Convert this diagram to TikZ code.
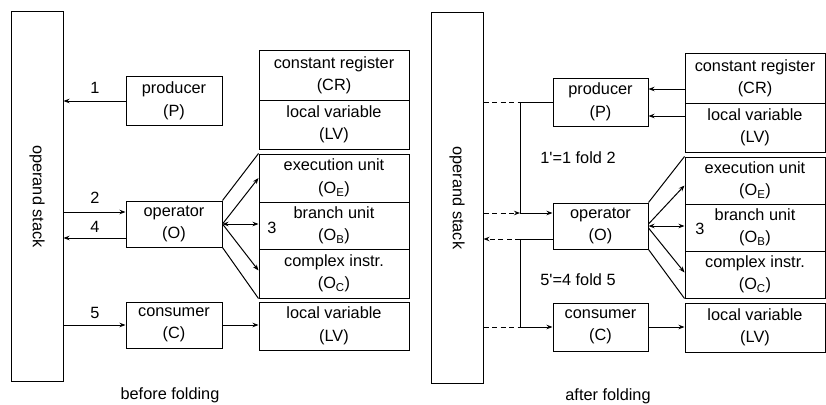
\documentclass[tikz,border=0pt]{standalone}
\usepackage{fontspec}
\setmainfont{Liberation Sans}
\usetikzlibrary{arrows.meta}
\newcommand{\labfont}{\fontsize{16.3}{22.5}\selectfont}
\begin{document}
\begin{tikzpicture}[x=1pt,y=-1pt,
  box/.style={draw, line width=1pt, inner sep=0pt, align=center, font=\labfont},
  lbl/.style={inner sep=0pt, font=\labfont},
  arr/.style={line width=1pt, -{Stealth[length=6pt,width=4.5pt]}},
  arrb/.style={line width=1pt, {Stealth[length=6pt,width=4.5pt]}-{Stealth[length=6pt,width=4.5pt]}},
  ln/.style={line width=1pt},
  dsh/.style={line width=1pt, dash pattern=on 5pt off 3.5pt}]
\useasboundingbox (0,0) rectangle (826,404);

% ---------- left panel ----------
\node[box, minimum width=52pt, minimum height=369pt,
  label={[rotate=-90,lbl]center:operand stack}] (stackL) at (37,196.5) {};
\node[box, minimum width=96pt, minimum height=49pt] (prodL) at (174,101) {producer\\(P)};
\node[box, minimum width=150pt, minimum height=49pt] (crL) at (334,75.5) {constant register\\(CR)};
\node[box, minimum width=150pt, minimum height=49pt] (lvL) at (334,124.5) {local variable\\(LV)};
\node[box, minimum width=150pt, minimum height=48pt] (oeL) at (334,178) {execution unit\\(O\textsubscript{E})};
\node[box, minimum width=150pt, minimum height=47pt] (obL) at (334,225.5) {branch unit\\(O\textsubscript{B})};
\node[box, minimum width=150pt, minimum height=49pt] (ocL) at (334,273.5) {complex instr.\\(O\textsubscript{C})};
\node[box, minimum width=96pt, minimum height=46pt] (opL) at (174,224) {operator\\(O)};
\node[box, minimum width=96pt, minimum height=46pt] (conL) at (174,325) {consumer\\(C)};
\node[box, minimum width=150pt, minimum height=48pt] (lv2L) at (334,326) {local variable\\(LV)};

\draw[arr] (prodL.west) -- (prodL.west -| stackL.east);
\draw[arr] ([yshift=12pt]opL.west -| stackL.east) -- ([yshift=12pt]opL.west);
\draw[arr] ([yshift=-14pt]opL.west) -- ([yshift=-14pt]opL.west -| stackL.east);
\draw[arr] (conL.west -| stackL.east) -- (conL.west);
\draw[arr] (conL.east) -- (conL.east -| lv2L.west);

\draw[ln] (opL.north east) -- (oeL.north west);
\draw[ln] (opL.south east) -- (ocL.south west);
\draw[arr] (opL.east) -- (oeL.west);
\draw[arrb] (opL.east) -- (opL.east -| obL.west);
\draw[arr] (opL.east) -- ([yshift=3pt]ocL.west);

\node[lbl] (n1) at (95,88) {1};
\node[lbl] (n2) at (95,198) {2};
\node[lbl] (n4) at (95,227) {4};
\node[lbl] (n5) at (95,313) {5};
\node[lbl] (n3L) at (272,228) {3};
\node[lbl] (capL) at (170,395) {before folding};

% ---------- right panel ----------
\node[box, minimum width=52pt, minimum height=370pt,
  label={[rotate=-90,lbl]center:operand stack}] (stackR) at (457,198) {};
\node[box, minimum width=95pt, minimum height=48pt] (prodR) at (600.5,102) {producer\\(P)};
\node[box, minimum width=140pt, minimum height=49pt] (crR) at (755,78.5) {constant register\\(CR)};
\node[box, minimum width=140pt, minimum height=49pt] (lvR) at (755,127.5) {local variable\\(LV)};
\node[box, minimum width=140pt, minimum height=47pt] (oeR) at (755,180.5) {execution unit\\(O\textsubscript{E})};
\node[box, minimum width=140pt, minimum height=47pt] (obR) at (755,227.5) {branch unit\\(O\textsubscript{B})};
\node[box, minimum width=140pt, minimum height=47pt] (ocR) at (755,274.5) {complex instr.\\(O\textsubscript{C})};
\node[box, minimum width=95pt, minimum height=46pt] (opR) at (600.5,226) {operator\\(O)};
\node[box, minimum width=95pt, minimum height=48pt] (conR) at (600.5,327) {consumer\\(C)};
\node[box, minimum width=140pt, minimum height=49pt] (lv2R) at (755,327.5) {local variable\\(LV)};

\draw[arr] ([yshift=13pt]prodR.east -| crR.west) -- ([yshift=13pt]prodR.east);
\draw[arr] ([yshift=-14pt]prodR.east -| lvR.west) -- ([yshift=-14pt]prodR.east);

\coordinate (j1) at (520,102);
\coordinate (j2) at (520,213);
\coordinate (j3) at (520,239);
\coordinate (j4) at (520,327);

\draw[dsh] (j1 -| stackR.east) -- (j1);
\draw[ln] (prodR.west) -- (j1) -- (j2);
\draw[arr] (j2) -- (j2 -| opR.west);
\draw[dsh, -{Stealth[length=6pt,width=4.5pt]}] (j2 -| stackR.east) -- (j2);

\draw[ln] (j3 -| opR.west) -- (j3) -- (j4);
\draw[arr] (j4) -- (j4 -| conR.west);
\draw[dsh, -{Stealth[length=6pt,width=4.5pt]}] (j3) -- (j3 -| stackR.east);
\draw[dsh] (j4 -| stackR.east) -- (j4);

\draw[arr] (conR.east) -- (conR.east -| lv2R.west);

\draw[ln] (opR.north east) -- (oeR.north west);
\draw[ln] (opR.south east) -- (ocR.south west);
\draw[arr] ([yshift=2pt]opR.east) -- ([yshift=-5pt]oeR.west);
\draw[arrb] (opR.east) -- (opR.east -| obR.west);
\draw[arr] ([yshift=-2pt]opR.east) -- ([yshift=2pt]ocR.west);

\node[lbl] (f1) at (578,158) {1\textquotesingle=1 fold 2};
\node[lbl] (f5) at (578,280) {5\textquotesingle=4 fold 5};
\node[lbl] (n3R) at (700,229) {3};
\node[lbl] (capR) at (608,396) {after folding};
\end{tikzpicture}
\end{document}
